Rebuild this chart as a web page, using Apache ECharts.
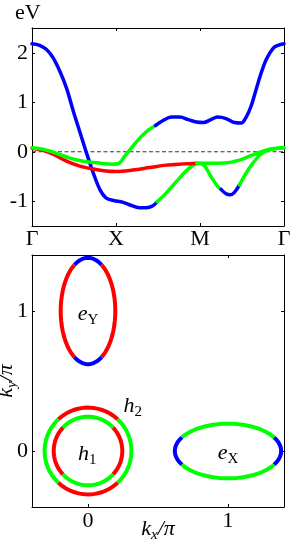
<!DOCTYPE html>
<html><head><meta charset="utf-8">
<script src="https://cdn.jsdelivr.net/npm/echarts@6/dist/echarts.min.js"></script>
<style>html,body{margin:0;padding:0;background:#fff}#c{width:291px;height:540px}</style>
</head><body><div id="c"></div><script>
// ---------- Top panel: band structure along Γ-X-M-Γ ----------
const kPathLabels = ['Γ', 'X', 'M', 'Γ'];
const kPathTicks = [0, 1, 2, 3];
const energyTicks = [-1, 0, 1, 2];

// band A: [k, E]
const bandA = [[0,2.18],[0.09,2.15],[0.17,2.07],[0.25,1.9],[0.33,1.63],[0.41,1.29],[0.49,0.83],[0.57,0.4],[0.65,-0.03],[0.73,-0.43],[0.81,-0.77],[0.88,-0.93],[0.98,-0.99],[1.06,-1.01],[1.16,-1.07],[1.28,-1.13],[1.36,-1.13],[1.44,-1.09],[1.49,-1.01],
  [1.6,-0.83],[1.72,-0.6],[1.84,-0.38],[1.92,-0.27],[2.0,-0.23],[2.06,-0.3],[2.13,-0.5],[2.21,-0.7],[2.25,-0.76],
  [2.31,-0.85],[2.36,-0.87],[2.41,-0.82],[2.47,-0.67],
  [2.55,-0.43],[2.63,-0.23],[2.71,-0.07],[2.79,0.02],[2.87,0.06],[3,0.08]];
const bandABreaks = [1.49, 2.25, 2.47];
const bandAColors = ['blue', 'green', 'blue', 'green'];

// band B
const bandB = [[0,0.07],[0.13,0.03],[0.25,-0.05],[0.41,-0.19],[0.57,-0.29],[0.73,-0.35],[0.88,-0.39],[1.0,-0.4],[1.2,-0.37],[1.4,-0.32],[1.6,-0.27],[1.8,-0.245],[1.96,-0.23],
  [2.1,-0.23],[2.3,-0.225],[2.47,-0.17],[2.59,-0.09],[2.71,-0.01],[2.83,0.05],[3,0.08]];
const bandBBreaks = [1.96];
const bandBColors = ['red', 'green'];

// band C
const bandC = [[0,0.08],[0.13,0.05],[0.29,-0.03],[0.45,-0.13],[0.61,-0.19],[0.81,-0.23],[0.96,-0.25],[1.04,-0.23],[1.1,-0.1],[1.18,0.07],[1.28,0.27],[1.38,0.43],[1.47,0.53],
  [1.56,0.63],[1.66,0.7],[1.76,0.7],[1.86,0.65],[1.96,0.6],[2.04,0.59],[2.13,0.65],[2.21,0.7],[2.31,0.67],[2.41,0.59],[2.49,0.58],[2.55,0.7],[2.61,0.93],[2.67,1.27],[2.73,1.6],[2.79,1.87],[2.87,2.09],[2.93,2.15],[3,2.18]];
const bandCBreaks = [1.47];
const bandCColors = ['green', 'blue'];

const fermiLevel = [[0,0],[3,0]];

// ---------- Bottom panel: Fermi surface pockets ----------
const kTicks = [0, 1];
const pocketNames = ['h1', 'h2', 'eY', 'eX'];
const pocketCenters = [[0,0],[0,0],[0,1],[1,0]];
const pocketSemiAxes = [[0.245,0.245],[0.31,0.31],[0.195,0.38],[0.38,0.195]];
// orbital-character arcs: [startDeg, endDeg, colour]
const pocketArcs = [
  [[-43,43,'red'],[43,137,'green'],[137,223,'red'],[223,317,'green']],
  [[-47,47,'green'],[47,133,'red'],[133,227,'green'],[227,313,'red']],
  [[-60,60,'red'],[60,120,'blue'],[120,240,'red'],[240,300,'blue']],
  [[-30,30,'blue'],[30,150,'green'],[150,210,'blue'],[210,330,'green']]
];
const pocketLabelMain = ['e', 'h', 'h', 'e'];
const pocketLabelSub = ['Y', '2', '1', 'X'];
const pocketLabelPos = [[0,0.98],[0.32,0.32],[-0.005,-0.02],[1.0,-0.015]];

// ---------- styling ----------
const FONT = 'Liberation Serif';
const COLORS = {blue:'#0000ff', red:'#ff0000', green:'#00ff00'};

function splitBand(pts, breaks, cols) {
  const segs = []; let cur = []; let s = 0;
  pts.forEach(p => {
    cur.push(p);
    if (s < breaks.length && Math.abs(p[0] - breaks[s]) < 1e-9) {
      segs.push({c: cols[s], d: cur}); cur = [p]; s++;
    }
  });
  segs.push({c: cols[s], d: cur});
  return segs;
}

function arcPoints(center, axes, a0, a1) {
  const pts = [];
  const n = Math.max(2, Math.ceil((a1 - a0) / 2));
  for (let i = 0; i <= n; i++) {
    const t = (a0 + (a1 - a0) * i / n) * Math.PI / 180;
    pts.push([center[0] + axes[0] * Math.cos(t), center[1] + axes[1] * Math.sin(t)]);
  }
  return pts;
}

const series = [];
series.push({type:'line', xAxisIndex:0, yAxisIndex:0, data:fermiLevel, symbol:'none', silent:true,
  lineStyle:{color:'#333', width:1, type:[4,2.5]}, z:1});
[[bandA,bandABreaks,bandAColors],[bandB,bandBBreaks,bandBColors],[bandC,bandCBreaks,bandCColors]].forEach(([b,br,cl]) => {
  splitBand(b, br, cl).forEach(seg => {
    series.push({type:'line', xAxisIndex:0, yAxisIndex:0, data:seg.d, symbol:'none', smooth:0.35, silent:true,
      lineStyle:{color:COLORS[seg.c], width:3.5, cap:'round'}, z:2});
  });
});
pocketNames.forEach((nm, i) => {
  pocketArcs[i].forEach(([a0,a1,c]) => {
    series.push({type:'line', xAxisIndex:2, yAxisIndex:2, data:arcPoints(pocketCenters[i], pocketSemiAxes[i], a0, a1),
      symbol:'none', silent:true, lineStyle:{color:COLORS[c], width:4}, z:2});
  });
});
const rich = {
  m:{fontFamily:FONT, fontStyle:'italic', fontSize:22, color:'#000', lineHeight:24},
  r:{fontFamily:FONT, fontSize:15, color:'#000', lineHeight:16, padding:[12,0,0,0]},
  si:{fontFamily:FONT, fontStyle:'italic', fontSize:15, color:'#000', lineHeight:16, padding:[12,0,0,0]}
};
series.push({type:'scatter', xAxisIndex:2, yAxisIndex:2, symbolSize:0, itemStyle:{color:'#000'}, silent:true,
  data: pocketLabelPos,
  label:{show:true, position:'inside', color:'#000', textBorderWidth:0, opacity:1, rich:rich,
    formatter: p => '{m|' + pocketLabelMain[p.dataIndex] + '}{r|' + pocketLabelSub[p.dataIndex] + '}'}, z:5});

const lineSt = {show:true, onZero:false, lineStyle:{color:'#000', width:1}};
function tick(vals){ return {show:true, inside:true, length:3, customValues:vals, lineStyle:{color:'#000', width:1}}; }
const lblBase = {fontFamily:FONT, fontSize:22, color:'#000'};

const option = {
  animation:false,
  backgroundColor:'#fff',
  grid:[{left:32, top:28, width:252, height:198, outerBoundsMode:'none', containLabel:false},
        {left:32, top:255, width:252, height:252, outerBoundsMode:'none', containLabel:false}],
  xAxis:[
    {type:'value', gridIndex:0, position:'bottom', min:0, max:3, axisLine:lineSt, axisTick:tick(kPathTicks), splitLine:{show:false},
      axisLabel:Object.assign({customValues:kPathTicks, margin:2, formatter:v => kPathLabels[Math.round(v)], showMinLabel:true, showMaxLabel:true}, lblBase)},
    {type:'value', gridIndex:0, position:'top', min:0, max:3, axisLine:lineSt, axisTick:tick(kPathTicks), splitLine:{show:false}, axisLabel:{show:false}},
    {type:'value', gridIndex:1, position:'bottom', min:-0.4, max:1.4, axisLine:lineSt, axisTick:tick(kTicks), splitLine:{show:false},
      axisLabel:Object.assign({customValues:kTicks, margin:3}, lblBase),
      name:'{m|k}{si|x}{m|/π}', nameLocation:'middle', nameGap:10, nameMoveOverlap:false, nameTextStyle:{rich:rich}},
    {type:'value', gridIndex:1, position:'top', min:-0.4, max:1.4, axisLine:lineSt, axisTick:tick(kTicks), splitLine:{show:false}, axisLabel:{show:false}}
  ],
  yAxis:[
    {type:'value', gridIndex:0, position:'left', min:-1.5, max:2.5, axisLine:lineSt, axisTick:tick(energyTicks), splitLine:{show:false},
      axisLabel:Object.assign({customValues:energyTicks, margin:4}, lblBase)},
    {type:'value', gridIndex:0, position:'right', min:-1.5, max:2.5, axisLine:lineSt, axisTick:tick(energyTicks), splitLine:{show:false}, axisLabel:{show:false}},
    {type:'value', gridIndex:1, position:'left', min:-0.4, max:1.4, axisLine:lineSt, axisTick:tick(kTicks), splitLine:{show:false},
      axisLabel:Object.assign({customValues:kTicks, margin:4}, lblBase),
      name:'{m|k}{si|y}{m|/π}', nameLocation:'middle', nameGap:14, nameRotate:90, nameMoveOverlap:false, nameTextStyle:{rich:rich}},
    {type:'value', gridIndex:1, position:'right', min:-0.4, max:1.4, axisLine:lineSt, axisTick:tick(kTicks), splitLine:{show:false}, axisLabel:{show:false}}
  ],
  graphic:[{type:'text', left:15, top:2, style:{text:'eV', font:'22px "Liberation Serif"', fill:'#000'}}],
  series:series
};
const chart = echarts.init(document.getElementById('c'), null, {renderer:'canvas'});
chart.setOption(option);
</script></body></html>
